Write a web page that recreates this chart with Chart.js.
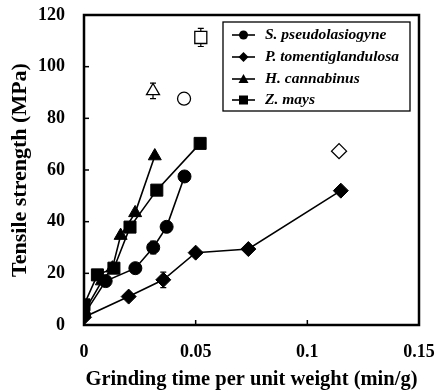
<!DOCTYPE html>
<html><head><meta charset="utf-8">
<script src="https://cdn.jsdelivr.net/npm/chart.js@4.4.1/dist/chart.umd.min.js"></script>
<style>html,body{margin:0;padding:0;background:#fff}#wrap{width:438px;height:392px}</style>
</head><body><div id="wrap"><canvas id="c" width="438" height="392"></canvas></div>
<script>
const seriesNames = ['S. pseudolasiogyne','P. tomentiglandulosa','H. cannabinus','Z. mays'];
const seriesStyles = ['circle','rectRot','triangle','rect'];
const sPseudoX = [0, 0.0097, 0.023, 0.031, 0.037, 0.045];
const sPseudoY = [4, 17, 22, 30, 38, 57.5];
const pTomenX = [0, 0.020, 0.0355, 0.050, 0.0736, 0.115];
const pTomenY = [3, 11, 17.5, 28, 29.4, 52];
const hCannX = [0, 0.008, 0.0127, 0.0164, 0.0229, 0.0317];
const hCannY = [5, 17, 22, 34.6, 43.4, 65.4];
const zMaysX = [0, 0.006, 0.0134, 0.0206, 0.0326, 0.052];
const zMaysY = [7.8, 19.4, 22, 37.9, 52.2, 70.3];
const openX = [0.0309, 0.0448, 0.0523, 0.1142];
const openY = [90.6, 87.6, 111.3, 67.3];
const openStyles = ['triangle','circle','rect','rectRot'];
// error bars: [x, y, half-range]
const errBars = [[0.0309,90.6,3],[0.0523,111.3,3.5],[0.031,30,2.5],[0.0355,17.5,3]];
const yTicks = [0,20,40,60,80,100,120];
const xTicks = [0,0.05,0.1,0.15];

function pts(xs, ys){ return xs.map((x,i)=>({x:x,y:ys[i]})); }
const radii = {circle:6.5, rectRot:7.5, triangle:7.5, rect:8.5};
const closed = [[sPseudoX,sPseudoY],[pTomenX,pTomenY],[hCannX,hCannY],[zMaysX,zMaysY]];
const datasets = closed.map((d,i)=>({
  label: seriesNames[i], data: pts(d[0],d[1]), showLine:true,
  borderColor:'#000', backgroundColor:'#000', borderWidth:1.6,
  pointStyle: seriesStyles[i], pointRadius: radii[seriesStyles[i]], pointBorderWidth:1,
  pointBackgroundColor:'#000', pointBorderColor:'#000'
}));
datasets.push({
  label:'open', data: pts(openX, openY), showLine:false,
  pointStyle: openStyles, pointRadius: openStyles.map(s=>radii[s]),
  pointBackgroundColor:'#fff', pointBorderColor:'#000', pointBorderWidth:1.3
});

const serif = "'Liberation Serif','Times New Roman',serif";

const framePlugin = {
  id:'frame',
  beforeDatasetsDraw(chart){
    const {ctx, scales:{x, y}} = chart;
    ctx.save();
    ctx.strokeStyle='#000';
    ctx.lineWidth=1.2;
    errBars.forEach(e=>{
      const px=x.getPixelForValue(e[0]);
      const p1=y.getPixelForValue(e[1]-e[2]), p2=y.getPixelForValue(e[1]+e[2]);
      ctx.beginPath(); ctx.moveTo(px,p1); ctx.lineTo(px,p2);
      ctx.moveTo(px-3,p1); ctx.lineTo(px+3,p1);
      ctx.moveTo(px-3,p2); ctx.lineTo(px+3,p2); ctx.stroke();
    });
    ctx.restore();
  },
  afterDraw(chart){
    const {ctx, chartArea:a, scales:{x, y}} = chart;
    ctx.save();
    ctx.strokeStyle='#000';
    ctx.lineWidth=2.5;
    ctx.strokeRect(a.left, a.top, a.right-a.left, a.bottom-a.top);
    ctx.lineWidth=1.5;
    yTicks.forEach(v=>{ const py=y.getPixelForValue(v); ctx.beginPath(); ctx.moveTo(a.left,py); ctx.lineTo(a.left+5,py); ctx.stroke(); });
    xTicks.forEach(v=>{ const px=x.getPixelForValue(v); ctx.beginPath(); ctx.moveTo(px,a.bottom); ctx.lineTo(px,a.bottom-5); ctx.stroke(); });
    // legend
    const lx=223, ly=22, lw=187, lh=89;
    ctx.fillStyle='#fff'; ctx.fillRect(lx,ly,lw,lh);
    ctx.lineWidth=1.3; ctx.strokeRect(lx,ly,lw,lh);
    const rows=[35,57,79,100];
    ctx.font="italic bold 15.5px "+serif; ctx.textBaseline='middle'; ctx.textAlign='left';
    seriesNames.forEach((n,i)=>{
      const cy=rows[i];
      ctx.strokeStyle='#000'; ctx.lineWidth=1.6;
      ctx.beginPath(); ctx.moveTo(232,cy); ctx.lineTo(255,cy); ctx.stroke();
      ctx.fillStyle='#000';
      const cx=243.5, s=seriesStyles[i];
      ctx.beginPath();
      if(s==='circle'){ ctx.arc(cx,cy,4.5,0,Math.PI*2); }
      else if(s==='rectRot'){ ctx.moveTo(cx,cy-5); ctx.lineTo(cx+5,cy); ctx.lineTo(cx,cy+5); ctx.lineTo(cx-5,cy); ctx.closePath(); }
      else if(s==='triangle'){ ctx.moveTo(cx,cy-5); ctx.lineTo(cx+5,cy+4); ctx.lineTo(cx-5,cy+4); ctx.closePath(); }
      else { ctx.rect(cx-4.5,cy-4.5,9,9); }
      ctx.fill();
      ctx.fillText(n, 265, cy);
    });
    ctx.restore();
  }
};

new Chart(document.getElementById('c'), {
  type:'scatter',
  data:{datasets},
  options:{
    responsive:false, animation:false, devicePixelRatio:1,
    layout:{padding:{top:15,right:19,left:0,bottom:0}},
    plugins:{legend:{display:false}, tooltip:{enabled:false}},
    scales:{
      x:{type:'linear', min:0, max:0.15,
        afterBuildTicks(s){ s.ticks = xTicks.map(v=>({value:v})); },
        afterFit(s){ s.height=67; s.paddingLeft=0; s.paddingRight=0; },
        grid:{display:false, drawTicks:false}, border:{display:false},
        ticks:{padding:17, color:'#000', font:{family:serif, size:18, weight:'bold'}, callback:v=>String(v)},
        title:{display:true, text:'Grinding time per unit weight (min/g)', color:'#000', font:{family:serif,size:20.5,weight:'bold'}, padding:{top:0,bottom:0}}
      },
      y:{type:'linear', min:0, max:120,
        afterBuildTicks(s){ s.ticks = yTicks.map(v=>({value:v})); },
        afterFit(s){ s.width=84; s.paddingTop=0; s.paddingBottom=0; },
        grid:{display:false, drawTicks:false}, border:{display:false},
        ticks:{padding:19, color:'#000', font:{family:serif, size:18, weight:'bold'}},
        title:{display:true, text:'Tensile strength (MPa)', color:'#000', font:{family:serif,size:22,weight:'bold'}, padding:{top:7,bottom:0}}
      }
    }
  },
  plugins:[framePlugin]
});
</script></body></html>
